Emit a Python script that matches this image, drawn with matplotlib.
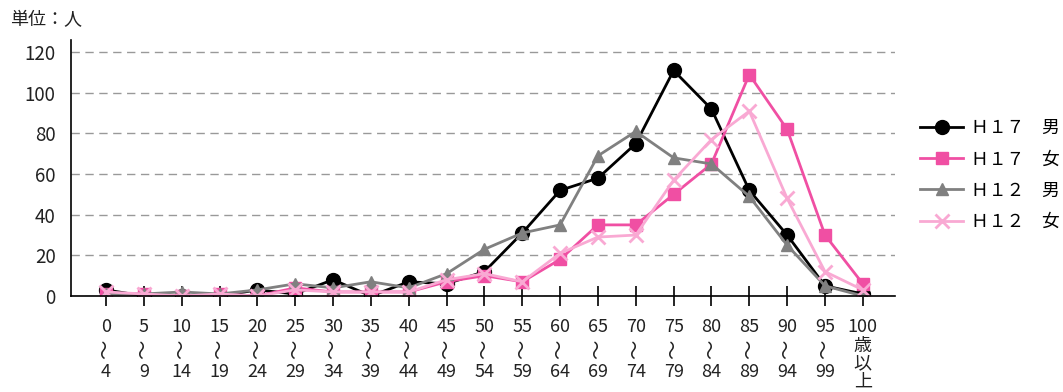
import matplotlib.pyplot as plt

plt.rcParams['font.family'] = ['Noto Sans CJK JP', 'DejaVu Sans']

# 年齢階級（5歳刻み）
age_start = ['0', '5', '10', '15', '20', '25', '30', '35', '40', '45', '50',
             '55', '60', '65', '70', '75', '80', '85', '90', '95', '100']
age_end = ['4', '9', '14', '19', '24', '29', '34', '39', '44', '49', '54',
           '59', '64', '69', '74', '79', '84', '89', '94', '99', '']

h17_male = [3, 0, 0, 0, 3, 1, 8, 0, 7, 6, 12, 31, 52, 58, 75, 111, 92, 52, 30, 5, 1]
h17_female = [1, 1, 0, 1, 0, 4, 2, 2, 2, 7, 10, 7, 18, 35, 35, 50, 65, 109, 82, 30, 6]
h12_male = [1, 1, 2, 1, 3, 6, 4, 7, 4, 11, 23, 31, 35, 69, 81, 68, 65, 49, 25, 5, 0]
h12_female = [2, 1, 0, 1, 0, 3, 2, 2, 2, 8, 11, 7, 21, 29, 30, 57, 77, 91, 48, 12, 3]

series_labels = ['Ｈ１７　男', 'Ｈ１７　女', 'Ｈ１２　男', 'Ｈ１２　女']
yticks = [0, 20, 40, 60, 80, 100, 120]

fig = plt.figure(figsize=(10.63, 3.92), dpi=100)
ax = fig.add_axes([71 / 1063, 96 / 392, 824 / 1063, 256 / 392])

x = list(range(len(age_start)))
ax.plot(x, h17_male, color='black', lw=2, marker='o', ms=10, label=series_labels[0])
ax.plot(x, h17_female, color='#F04FA3', lw=2, marker='s', ms=9, label=series_labels[1])
ax.plot(x, h12_male, color='#808080', lw=2, marker='^', ms=9, label=series_labels[2])
ax.plot(x, h12_female, color='#F9A9D3', lw=2, marker='x', ms=10, mew=2, label=series_labels[3])

ax.set_xlim(-0.925, 20.85)
ax.set_ylim(0, 126)

# 目盛りと補助線
ax.set_yticks(yticks)
ax.set_yticklabels([str(v) for v in yticks], fontsize=13.5, color='#222222')
ax.tick_params(axis='y', length=0, pad=11)
ax.set_xticks(x)
ax.set_xticklabels([])
ax.tick_params(axis='x', direction='inout', length=14, width=1.2, color='black')
ax.grid(axis='y', color='#999999', ls=(0, (6, 4)), lw=1)
ax.set_axisbelow(True)

for side in ['top', 'right']:
    ax.spines[side].set_visible(False)
for side in ['left', 'bottom']:
    ax.spines[side].set_linewidth(1.2)

# 横軸ラベル（縦書き）
for i, (a, b) in enumerate(zip(age_start, age_end)):
    ax.annotate(a, xy=(i, 0), xycoords=('data', 'axes fraction'),
                xytext=(0, -22.5), textcoords='offset points',
                ha='center', va='center', fontsize=13, color='#222222')
    if b:
        ax.annotate('〜', xy=(i, 0), xycoords=('data', 'axes fraction'),
                    xytext=(0, -38.5), textcoords='offset points', rotation=90,
                    ha='center', va='center', fontsize=14, color='#222222')
        ax.annotate(b, xy=(i, 0), xycoords=('data', 'axes fraction'),
                    xytext=(0, -54.5), textcoords='offset points',
                    ha='center', va='center', fontsize=13, color='#222222')
    else:
        for k, ch in enumerate('歳以上'):
            ax.annotate(ch, xy=(i, 0), xycoords=('data', 'axes fraction'),
                        xytext=(0, -36 - 12.8 * k), textcoords='offset points',
                        ha='center', va='center', fontsize=13, color='#222222')

fig.text(10 / 1063, 1 - 20 / 392, '単位：人', ha='left', va='center',
         fontsize=13, color='#222222')

fig.legend(loc='center left', bbox_to_anchor=(915 / 1063, 1 - 175 / 392),
           frameon=False, fontsize=12.8, handlelength=2.4, handletextpad=0.45,
           labelspacing=0.74, borderaxespad=0, borderpad=0.3)

fig.savefig('out.png', dpi=100)
